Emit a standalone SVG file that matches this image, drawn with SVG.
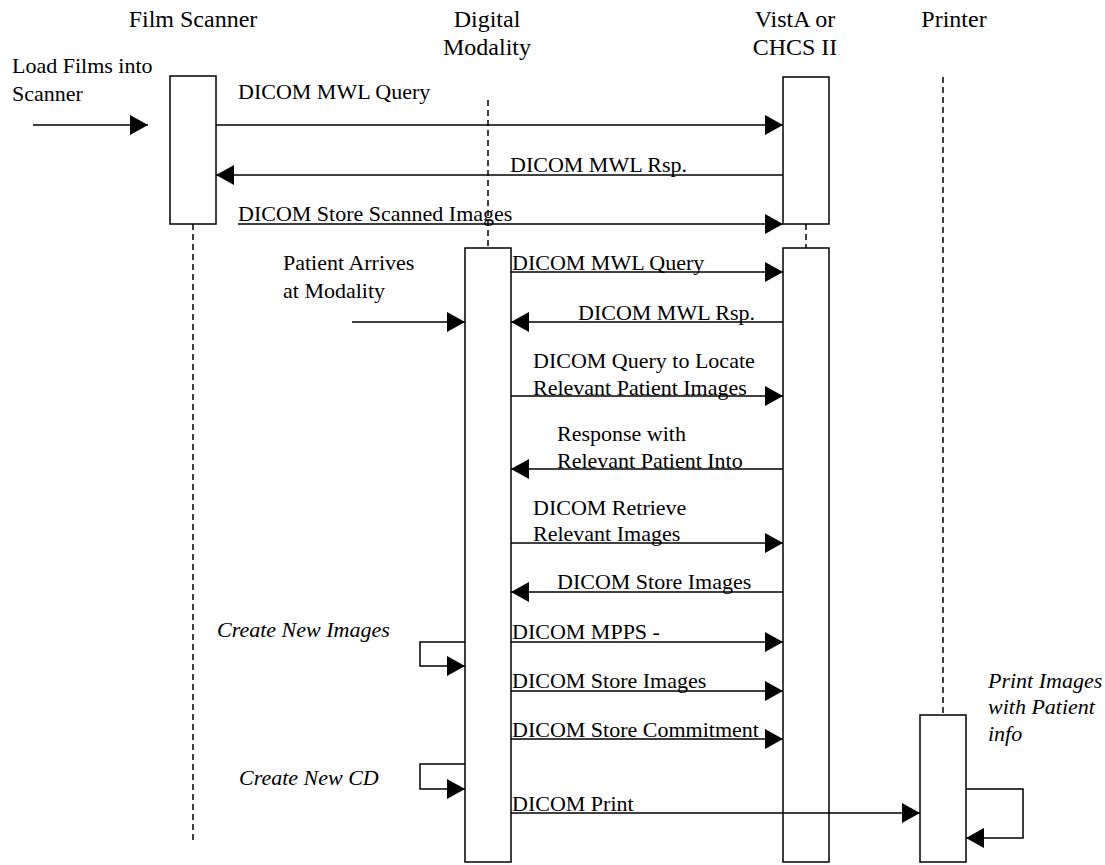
<svg xmlns="http://www.w3.org/2000/svg" width="1105" height="865" viewBox="0 0 1105 865">
<style>
text{font-family:"Liberation Serif","Times New Roman",serif;font-size:22px;fill:#000}
.hd{font-size:24px;text-anchor:middle}
.it{font-style:italic}
.box{fill:#fff;stroke:#000;stroke-width:1.5}
.life{stroke:#000;stroke-width:1.5;stroke-dasharray:6 4;fill:none}
.msg{stroke:#000;stroke-width:1.5;fill:none;marker-end:url(#ah)}
</style>
<defs>
<marker id="ah" markerUnits="userSpaceOnUse" markerWidth="18" markerHeight="20" refX="18" refY="10" orient="auto">
<path d="M0,0 L18,10 L0,20 z" fill="#000"/>
</marker>
</defs>
<rect width="1105" height="865" fill="#fff"/>

<g id="film-scanner">
<text class="hd" x="193" y="27">Film Scanner</text>
<line class="life" x1="193" y1="224" x2="193" y2="840"/>
<rect class="box" x="170" y="76" width="46" height="148"/>
</g>

<g id="digital-modality">
<text class="hd" x="487" y="27">Digital</text>
<text class="hd" x="487" y="55">Modality</text>
<line class="life" x1="488" y1="100" x2="488" y2="248"/>
<rect class="box" x="465" y="248" width="46" height="614"/>
</g>

<g id="vista">
<text class="hd" x="795" y="27">VistA or</text>
<text class="hd" x="795" y="55">CHCS II</text>
<rect class="box" x="783" y="77" width="46" height="147"/>
<line class="life" x1="806" y1="224" x2="806" y2="248"/>
<rect class="box" x="783" y="248" width="46" height="614"/>
</g>

<g id="printer">
<text class="hd" x="954" y="27">Printer</text>
<line class="life" x1="943" y1="77" x2="943" y2="715"/>
<rect class="box" x="920" y="715" width="46" height="147"/>
</g>

<g id="connectors">
<line class="msg" x1="33" y1="125" x2="148" y2="125"/>
<line class="msg" x1="216" y1="125" x2="783" y2="125"/>
<line class="msg" x1="783" y1="175" x2="216" y2="175"/>
<line class="msg" x1="238" y1="224" x2="783" y2="224"/>
<line class="msg" x1="511" y1="272" x2="783" y2="272"/>
<line class="msg" x1="352" y1="322" x2="465" y2="322"/>
<line class="msg" x1="783" y1="322" x2="511" y2="322"/>
<line class="msg" x1="511" y1="396" x2="783" y2="396"/>
<line class="msg" x1="783" y1="469" x2="511" y2="469"/>
<line class="msg" x1="511" y1="543" x2="783" y2="543"/>
<line class="msg" x1="783" y1="592" x2="511" y2="592"/>
<line class="msg" x1="511" y1="642" x2="783" y2="642"/>
<line class="msg" x1="511" y1="691" x2="783" y2="691"/>
<line class="msg" x1="511" y1="739" x2="783" y2="739"/>
<line class="msg" x1="511" y1="813" x2="920" y2="813"/>
<path class="msg" d="M465,642 H420 V666 H465"/>
<path class="msg" d="M465,764 H420 V789 H465"/>
<path class="msg" d="M966,789 H1023 V838 H966"/>
</g>

<g id="labels">
<text x="12" y="73">Load Films into</text>
<text x="12" y="101">Scanner</text>
<text x="238" y="99">DICOM MWL Query</text>
<text x="510" y="172">DICOM MWL Rsp.</text>
<text x="238" y="221">DICOM Store Scanned Images</text>
<text x="283" y="270">Patient Arrives</text>
<text x="283" y="298">at Modality</text>
<text x="512" y="270">DICOM MWL Query</text>
<text x="578" y="320">DICOM MWL Rsp.</text>
<text x="533" y="368">DICOM Query to Locate</text>
<text x="533" y="395">Relevant Patient Images</text>
<text x="557" y="441">Response with</text>
<text x="557" y="468">Relevant Patient Into</text>
<text x="533" y="515">DICOM Retrieve</text>
<text x="533" y="541">Relevant Images</text>
<text x="557" y="589">DICOM Store Images</text>
<text x="512" y="639">DICOM MPPS -</text>
<text x="512" y="688">DICOM Store Images</text>
<text x="512" y="737">DICOM Store Commitment</text>
<text x="512" y="811">DICOM Print</text>
<text class="it" x="217" y="637">Create New Images</text>
<text class="it" x="239" y="785">Create New CD</text>
<text class="it" x="988" y="688">Print Images</text>
<text class="it" x="988" y="714">with Patient</text>
<text class="it" x="988" y="741">info</text>
</g>
</svg>
